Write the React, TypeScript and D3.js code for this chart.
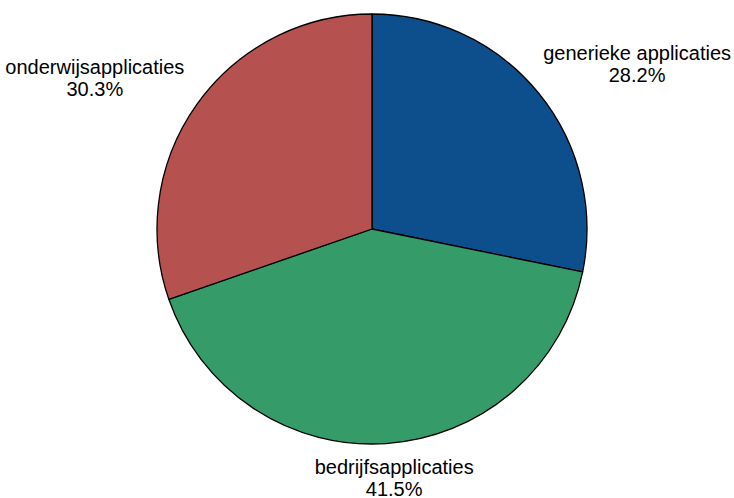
import React, { useRef, useEffect } from 'react'
import * as d3 from 'd3'

const labels = ['generieke applicaties', 'bedrijfsapplicaties', 'onderwijsapplicaties']
const shares = [28.2, 41.5, 30.3]
const colors = ['#0c4f8c', '#359b69', '#b5514f']

const App: React.FC = () => {
  const node = useRef<SVGSVGElement | null>(null)
  const width = 734
  const height = 498

  useEffect(() => {
    const svg = d3.select(node.current)
    svg.selectAll('*').remove()

    const cx = 372
    const cy = 229
    const r = 215
    const labelRx = 300
    const labelRy = 254
    const lineGap = 22

    const pie = d3
      .pie<number>()
      .sort(null)
      .value((d) => d)
    const arcs = pie(shares)
    const arc = d3.arc<d3.PieArcDatum<number>>().innerRadius(0).outerRadius(r)

    const g = svg.append('g').attr('transform', `translate(${cx},${cy})`)

    g.selectAll('path')
      .data(arcs)
      .join('path')
      .attr('d', arc)
      .attr('fill', (d, i) => colors[i])
      .attr('stroke', '#000')
      .attr('stroke-width', 1.3)
      .attr('stroke-linejoin', 'round')

    arcs.forEach((a, i) => {
      const mid = (a.startAngle + a.endAngle) / 2
      const sx = Math.sin(mid)
      const sy = -Math.cos(mid)
      const t = g
        .append('text')
        .attr('font-family', 'Liberation Sans, Arial, sans-serif')
        .attr('font-size', 20)
        .attr('fill', '#000')
        .attr('text-anchor', 'middle')
      t.append('tspan').attr('x', 0).attr('dy', 0).text(labels[i])
      t.append('tspan')
        .attr('x', 0)
        .attr('dy', lineGap)
        .text(d3.format('.1f')(shares[i]) + '%')
      const w = (t.node() as SVGTextElement).getBBox().width
      // push the label block outward by part of its own width
      const x = sx * (labelRx + 0.225 * w)
      const y = sy * labelRy - 8
      t.attr('transform', `translate(${x},${y})`)
    })
  }, [])

  return (
    <div style={{ width, height }}>
      <svg ref={node} width={width} height={height} style={{ position: 'absolute', left: 0, top: 0 }}></svg>
    </div>
  )
}

export default App
